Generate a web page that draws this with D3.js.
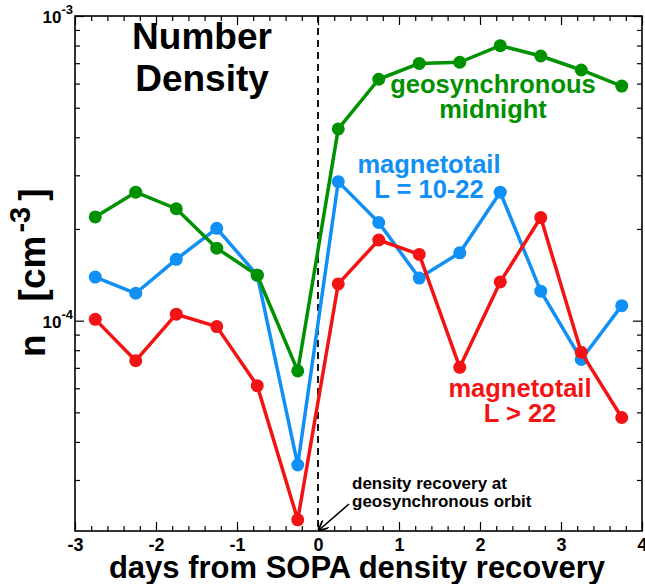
<!DOCTYPE html>
<html>
<head>
<meta charset="utf-8">
<script src="https://cdn.jsdelivr.net/npm/d3@7"></script>
<style>
  html, body { margin: 0; padding: 0; background: #fff; }
  svg { display: block; font-family: "Liberation Sans", Arial, Helvetica, sans-serif; font-weight: bold; }
</style>
</head>
<body>
<svg id="chart" width="645" height="584"></svg>
<script>
// ---- data ----
const days = [-2.75, -2.25, -1.75, -1.25, -0.75, -0.25, 0.25, 0.75, 1.25, 1.75, 2.25, 2.75, 3.25, 3.75];
const geoMidnight = [2.19e-4, 2.64e-4, 2.33e-4, 1.73e-4, 1.41e-4, 6.84e-5, 4.26e-4, 6.2e-4, 6.99e-4, 7.05e-4, 7.99e-4, 7.39e-4, 6.65e-4, 5.89e-4];
const magnetotail10to22 = [1.39e-4, 1.23e-4, 1.59e-4, 2.01e-4, 1.41e-4, 3.36e-5, 2.86e-4, 2.10e-4, 1.38e-4, 1.67e-4, 2.64e-4, 1.25e-4, 7.46e-5, 1.12e-4];
const magnetotailGt22 = [1.01e-4, 7.39e-5, 1.05e-4, 9.56e-5, 6.12e-5, 2.22e-5, 1.32e-4, 1.84e-4, 1.65e-4, 7.03e-5, 1.34e-4, 2.18e-4, 7.87e-5, 4.81e-5];
const xMajorTicks = [-3, -2, -1, 0, 1, 2, 3, 4];
const xTickLabels = ["-3", "-2", "-1", "0", "1", "2", "3", "4"];
const yMajorTicks = [1e-4, 1e-3];
const yTickExponents = ["-4", "-3"];
const seriesNames = ["magnetotail10to22", "magnetotailGt22", "geoMidnight"];
const seriesLabels = [["magnetotail", "L = 10-22"], ["magnetotail", "L > 22"], ["geosynchronous", "midnight"]];
const titleLines = ["Number", "Density"];
const xTitle = "days from SOPA density recovery";
const annotationLines = ["density recovery at", "geosynchronous orbit"];

// ---- layout ----
const svg = d3.select("#chart");
const L = 75, R = 642, T = 16, B = 531;
const x = d3.scaleLinear().domain([-3, 4]).range([L, R]);
const y = d3.scaleLog().domain([2.04e-5, 1e-3]).range([B, T]);
const colors = { geoMidnight: "#009100", magnetotail10to22: "#1090f5", magnetotailGt22: "#f21414" };
const values = { geoMidnight, magnetotail10to22, magnetotailGt22 };

// minor ticks
const xMinor = d3.range(-3, 4.0001, 0.2).map(v => +v.toFixed(2)).filter(v => Math.abs(v - Math.round(v)) > 1e-6);
const yMinor = [];
for (let e = -5; e <= -4; e++) for (let m = 2; m <= 9; m++) {
  const v = m * Math.pow(10, e);
  if (v >= 2.04e-5 && v <= 1e-3) yMinor.push(v);
}

function styleAxis(g) {
  g.selectAll(".domain").remove();
  g.selectAll("line").attr("stroke", "#000").attr("stroke-width", 1.2);
}

// bottom axis
const gB = svg.append("g").attr("transform", `translate(0,${B})`)
  .call(d3.axisBottom(x).tickValues(xMajorTicks).tickSizeInner(-9).tickSizeOuter(0).tickPadding(7)
    .tickFormat((d, i) => xTickLabels[i]));
styleAxis(gB);
gB.selectAll("text").style("font-size", "18px").style("font-weight", "bold").attr("fill", "#000")
  .style("font-family", "'Liberation Sans', Arial, sans-serif");
const gBm = svg.append("g").attr("transform", `translate(0,${B})`)
  .call(d3.axisBottom(x).tickValues(xMinor).tickSizeInner(-5).tickSizeOuter(0).tickFormat(""));
styleAxis(gBm);
// top axis
const gT = svg.append("g").attr("transform", `translate(0,${T})`)
  .call(d3.axisTop(x).tickValues(xMajorTicks).tickSizeInner(-9).tickSizeOuter(0).tickFormat(""));
styleAxis(gT);
const gTm = svg.append("g").attr("transform", `translate(0,${T})`)
  .call(d3.axisTop(x).tickValues(xMinor).tickSizeInner(-5).tickSizeOuter(0).tickFormat(""));
styleAxis(gTm);
// left axis (ticks only; labels drawn below)
const gL = svg.append("g").attr("transform", `translate(${L},0)`)
  .call(d3.axisLeft(y).tickValues(yMajorTicks).tickSizeInner(-9).tickSizeOuter(0).tickFormat(""));
styleAxis(gL);
gL.selectAll(".tick text").remove();
const yLab = svg.append("g");
yMajorTicks.forEach((v, i) => {
  const t = yLab.append("text").attr("x", L - 2).attr("y", y(v) + 7)
    .attr("text-anchor", "end").attr("font-size", 17).attr("font-weight", "bold").attr("fill", "#000");
  t.append("tspan").text("10");
  t.append("tspan").attr("font-size", 13).attr("dy", -9).text(yTickExponents[i]);
});
const gLm = svg.append("g").attr("transform", `translate(${L},0)`)
  .call(d3.axisLeft(y).tickValues(yMinor).tickSizeInner(-5).tickSizeOuter(0).tickFormat(""));
styleAxis(gLm);
// right axis
const gR = svg.append("g").attr("transform", `translate(${R},0)`)
  .call(d3.axisRight(y).tickValues(yMajorTicks).tickSizeInner(-9).tickSizeOuter(0).tickFormat(""));
styleAxis(gR);
const gRm = svg.append("g").attr("transform", `translate(${R},0)`)
  .call(d3.axisRight(y).tickValues(yMinor).tickSizeInner(-5).tickSizeOuter(0).tickFormat(""));
styleAxis(gRm);

// frame
svg.append("rect").attr("x", L).attr("y", T).attr("width", R - L).attr("height", B - T)
  .attr("fill", "none").attr("stroke", "#000").attr("stroke-width", 1.6);

// dashed zero line
svg.append("line").attr("x1", x(0)).attr("x2", x(0)).attr("y1", T).attr("y2", B)
  .attr("stroke", "#000").attr("stroke-width", 1.8).attr("stroke-dasharray", "7,5");

// series
const line = d3.line().x(d => x(d[0])).y(d => y(d[1]));
seriesNames.forEach(name => {
  const pts = days.map((d, i) => [d, values[name][i]]);
  const g = svg.append("g");
  g.append("path").datum(pts).attr("d", line).attr("fill", "none")
    .attr("stroke", colors[name]).attr("stroke-width", 3.5).attr("stroke-linejoin", "round");
  g.selectAll("circle").data(pts).join("circle")
    .attr("cx", d => x(d[0])).attr("cy", d => y(d[1])).attr("r", 6.5).attr("fill", colors[name]);
});

// series labels
const labelPos = [[429, 173], [520, 397], [493, 93]];
seriesNames.forEach((name, i) => {
  const t = svg.append("text").attr("text-anchor", "middle").attr("font-size", 25.5)
    .attr("fill", colors[name]).attr("x", labelPos[i][0]).attr("y", labelPos[i][1]);
  seriesLabels[i].forEach((s, j) => t.append("tspan").attr("x", labelPos[i][0]).attr("dy", j === 0 ? 0 : 25).text(s));
});

// title
const title = svg.append("text").attr("text-anchor", "middle").attr("font-size", 37).attr("fill", "#000");
titleLines.forEach((s, j) => title.append("tspan").attr("x", 202).attr("y", 49 + j * 42).text(s));

// x title
svg.append("text").attr("x", 357).attr("y", 578).attr("text-anchor", "middle")
  .attr("font-size", 31).attr("fill", "#000").text(xTitle);

// y title
const yt = svg.append("text").attr("transform", "translate(45,357) rotate(-90)")
  .attr("text-anchor", "start").attr("font-size", 37).attr("fill", "#000");
yt.append("tspan").text("n");
yt.append("tspan").attr("dx", 33).text("[cm");
yt.append("tspan").attr("font-size", 29).attr("dx", 3).attr("dy", -15).text("-3");
yt.append("tspan").attr("dx", 6).attr("dy", 15).text("]");

// annotation
const ann = svg.append("text").attr("font-size", 17).attr("fill", "#000");
annotationLines.forEach((s, j) => ann.append("tspan").attr("x", 352).attr("y", 489 + j * 18).text(s));
svg.append("defs").append("marker").attr("id", "arrow").attr("viewBox", "0 0 10 10")
  .attr("refX", 9).attr("refY", 5).attr("markerWidth", 10).attr("markerHeight", 10)
  .attr("markerUnits", "userSpaceOnUse").attr("orient", "auto")
  .append("path").attr("d", "M0,0 L10,5 L0,10").attr("fill", "none").attr("stroke", "#000").attr("stroke-width", 1.8);
svg.append("line").attr("x1", 349).attr("y1", 504).attr("x2", x(0) + 1).attr("y2", B - 1)
  .attr("stroke", "#000").attr("stroke-width", 1.6).attr("marker-end", "url(#arrow)");
</script>
</body>
</html>
